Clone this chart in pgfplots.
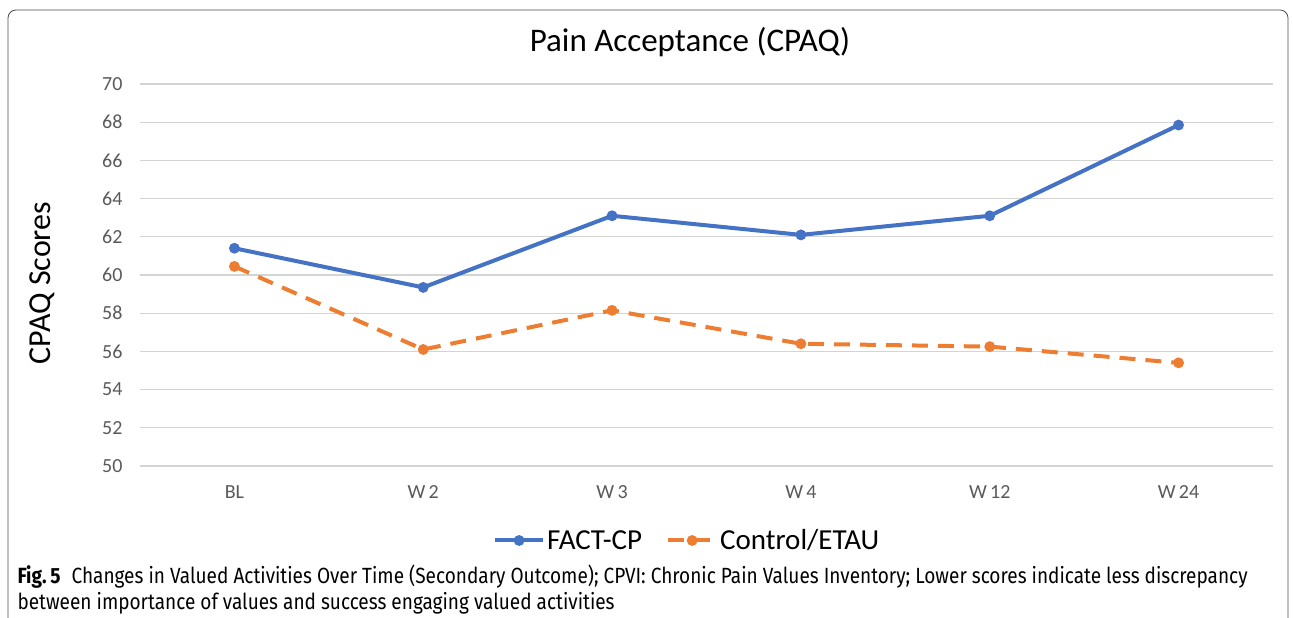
\documentclass[border=0pt]{standalone}
\usepackage{fontspec}
\setmainfont{Carlito}
\newfontfamily\capfont[FakeStretch=0.865]{Fira Sans}
\usepackage{pgfplots}
\pgfplotsset{compat=1.18}
\definecolor{cblue}{HTML}{4472C4}
\definecolor{corange}{HTML}{ED7D31}
\definecolor{tickgray}{HTML}{595959}
\begin{document}
\begin{tikzpicture}[x=1pt,y=1pt]
\path[use as bounding box] (0,0) rectangle (1293,618);
\draw[draw=black!70, line width=0.8pt, rounded corners=8pt] (8,-5) -- (8,608) -- (1288,608) -- (1288,-5);
\node[font=\fontsize{33}{38}\selectfont] at (690,576) {Pain Acceptance (CPAQ)};
\node[font=\fontsize{32}{36}\selectfont, rotate=90] at (42,335) {CPAQ Scores};
\begin{axis}[
  at={(140pt,152pt)}, anchor=south west,
  width=1133pt, height=382pt, scale only axis,
  xmin=-0.5, xmax=5.5, ymin=50, ymax=70,
  ytick={50,52,...,70},
  xtick={0,...,5},
  xticklabels={BL,W\,2,W\,3,W\,4,W\,12,W\,24},
  axis line style={draw=none},
  major tick style={draw=none},
  ymajorgrids, grid style={draw=black!17, line width=1.3pt},
  /pgf/number format/assume math mode=true,
  tick label style={font=\fontsize{20}{23}\selectfont, text=tickgray},
  yticklabel style={xshift=-14pt},
  xticklabel style={yshift=-16pt},
  legend style={at={(0.483,-0.195)}, anchor=center, draw=none, fill=none,
    legend columns=2, font=\fontsize{29}{33}\selectfont,
    /tikz/every even column/.append style={column sep=22pt}},
  legend image code/.code={
    \draw[#1, mark repeat=2, mark phase=2] plot coordinates {(0pt,0pt) (24pt,0pt) (48pt,0pt)};},
  clip=false,
]
\addplot[cblue, line width=4pt, mark=*, mark size=3.3pt, mark options={solid}]
  coordinates {(0,61.4) (1,59.35) (2,63.1) (3,62.1) (4,63.1) (5,67.85)};
\addlegendentry{FACT-CP}
\addplot[corange, line width=4pt, dash pattern=on 16pt off 10pt, mark=*, mark size=3.3pt, mark options={solid}]
  coordinates {(0,60.45) (1,56.1) (2,58.15) (3,56.4) (4,56.25) (5,55.4)};
\addlegendentry{Control/ETAU}
\end{axis}
\node[anchor=west, font=\capfont\fontsize{22}{26}\selectfont] at (14,41) {\textbf{Fig.\,5}\enspace Changes in Valued Activities Over Time (Secondary Outcome); CPVI: Chronic Pain Values Inventory; Lower scores indicate less discrepancy};
\node[anchor=west, font=\capfont\fontsize{22}{26}\selectfont] at (14,15) {between importance of values and success engaging valued activities};
\end{tikzpicture}
\end{document}
